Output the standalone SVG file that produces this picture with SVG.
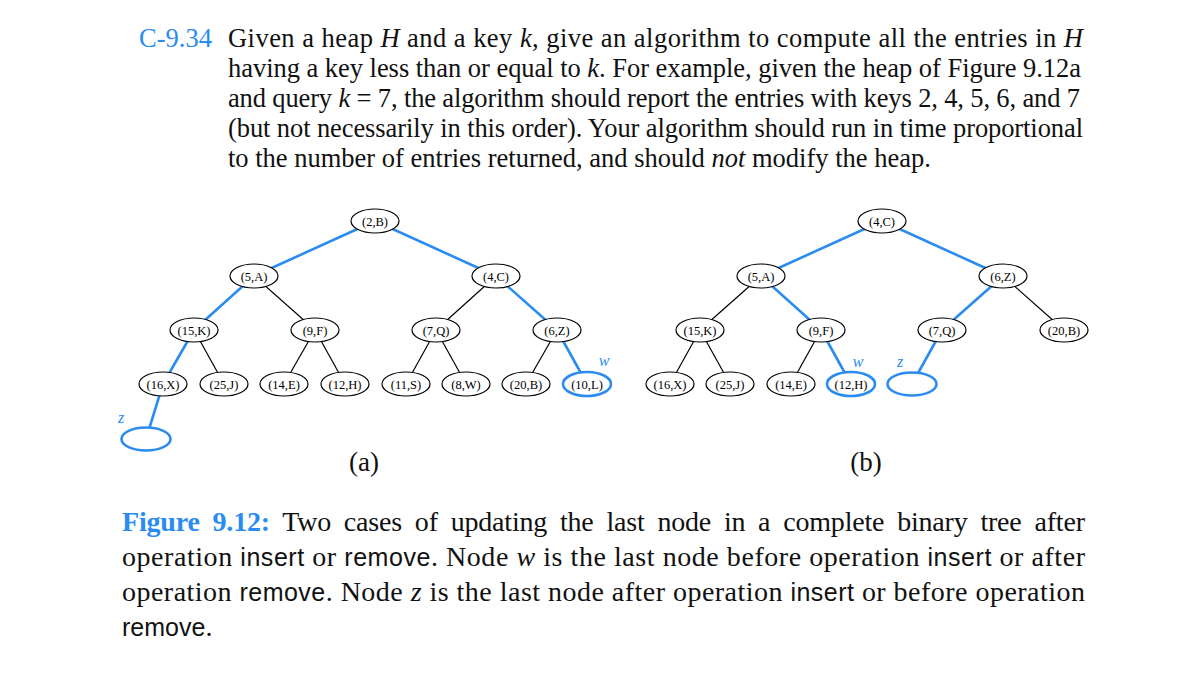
<svg xmlns="http://www.w3.org/2000/svg" width="1200" height="690" viewBox="0 0 1200 690">
<style>
.bg{fill:#ffffff}
.t{font-family:"Liberation Serif","Times New Roman",serif;font-size:26.5px;fill:#111}
.c{font-size:28px}
.it{font-style:italic}
.blue{fill:#2a8cf0}
.sf{font-family:"Liberation Sans",Arial,sans-serif;font-size:25px}
.nd ellipse{fill:#fff;stroke:#000;stroke-width:1.2}
.nd.hl ellipse{stroke:#2a8cf0;stroke-width:2.6}
.nd text{font-family:"Liberation Serif","Times New Roman",serif;font-size:12.5px;fill:#000;text-anchor:middle}
.e{stroke:#000;stroke-width:1.2}
.eb{stroke:#2a8cf0;stroke-width:2.6}
.lbl{font-family:"Liberation Serif","Times New Roman",serif;font-style:italic;font-size:16px;fill:#2a8cf0;text-anchor:middle}
.sub{font-family:"Liberation Serif","Times New Roman",serif;font-size:27px;fill:#111;text-anchor:middle}
</style>
<rect class="bg" x="0" y="0" width="1200" height="690"/>

<g id="problem-text">
<text class="t blue" x="139" y="47">C-9.34</text>
<text class="t" x="228" y="47" textLength="855" lengthAdjust="spacing">Given a heap <tspan class="it">H</tspan> and a key <tspan class="it">k</tspan>, give an algorithm to compute all the entries in <tspan class="it">H</tspan></text>
<text class="t" x="228" y="77" textLength="853" lengthAdjust="spacing">having a key less than or equal to <tspan class="it">k</tspan>. For example, given the heap of Figure 9.12a</text>
<text class="t" x="228" y="107" textLength="852" lengthAdjust="spacing">and query <tspan class="it">k</tspan> = 7, the algorithm should report the entries with keys 2, 4, 5, 6, and 7</text>
<text class="t" x="228" y="137" textLength="855" lengthAdjust="spacing">(but not necessarily in this order). Your algorithm should run in time proportional</text>
<text class="t" x="228" y="167">to the number of entries returned, and should <tspan class="it">not</tspan> modify the heap.</text>
</g>

<g id="connectors" fill="none">
<!-- tree (a) -->
<line class="eb" x1="375" y1="221" x2="254" y2="276"/>
<line class="eb" x1="375" y1="221" x2="496" y2="276"/>
<line class="eb" x1="254" y1="276" x2="194" y2="330"/>
<line class="e" x1="254" y1="276" x2="315" y2="330"/>
<line class="e" x1="496" y1="276" x2="436" y2="330"/>
<line class="eb" x1="496" y1="276" x2="557" y2="330"/>
<line class="eb" x1="194" y1="330" x2="163" y2="384"/>
<line class="e" x1="194" y1="330" x2="224" y2="384"/>
<line class="e" x1="315" y1="330" x2="284" y2="384"/>
<line class="e" x1="315" y1="330" x2="345" y2="384"/>
<line class="e" x1="436" y1="330" x2="406" y2="384"/>
<line class="e" x1="436" y1="330" x2="466" y2="384"/>
<line class="e" x1="557" y1="330" x2="526" y2="384"/>
<line class="eb" x1="557" y1="330" x2="587" y2="384"/>
<line class="eb" x1="163" y1="384" x2="146" y2="439"/>
<!-- tree (b) -->
<line class="eb" x1="882" y1="221" x2="761" y2="276"/>
<line class="eb" x1="882" y1="221" x2="1003" y2="276"/>
<line class="e" x1="761" y1="276" x2="700" y2="330"/>
<line class="eb" x1="761" y1="276" x2="821" y2="330"/>
<line class="eb" x1="1003" y1="276" x2="942" y2="330"/>
<line class="e" x1="1003" y1="276" x2="1064" y2="330"/>
<line class="e" x1="700" y1="330" x2="670" y2="384"/>
<line class="e" x1="700" y1="330" x2="730" y2="384"/>
<line class="e" x1="821" y1="330" x2="791" y2="384"/>
<line class="eb" x1="821" y1="330" x2="851" y2="384"/>
<line class="eb" x1="942" y1="330" x2="912" y2="384"/>
</g>

<!-- tree (a) nodes -->
<g id="a-2B" class="nd"><ellipse cx="375" cy="221" rx="24" ry="12"/><text x="375" y="225.5">(2,B)</text></g>
<g id="a-5A" class="nd"><ellipse cx="254" cy="276" rx="24" ry="12"/><text x="254" y="280.5">(5,A)</text></g>
<g id="a-4C" class="nd"><ellipse cx="496" cy="276" rx="24" ry="12"/><text x="496" y="280.5">(4,C)</text></g>
<g id="a-15K" class="nd"><ellipse cx="194" cy="330" rx="24" ry="12"/><text x="194" y="334.5">(15,K)</text></g>
<g id="a-9F" class="nd"><ellipse cx="315" cy="330" rx="24" ry="12"/><text x="315" y="334.5">(9,F)</text></g>
<g id="a-7Q" class="nd"><ellipse cx="436" cy="330" rx="24" ry="12"/><text x="436" y="334.5">(7,Q)</text></g>
<g id="a-6Z" class="nd"><ellipse cx="557" cy="330" rx="24" ry="12"/><text x="557" y="334.5">(6,Z)</text></g>
<g id="a-16X" class="nd"><ellipse cx="163" cy="384" rx="24" ry="12"/><text x="163" y="388.5">(16,X)</text></g>
<g id="a-25J" class="nd"><ellipse cx="224" cy="384" rx="24" ry="12"/><text x="224" y="388.5">(25,J)</text></g>
<g id="a-14E" class="nd"><ellipse cx="284" cy="384" rx="24" ry="12"/><text x="284" y="388.5">(14,E)</text></g>
<g id="a-12H" class="nd"><ellipse cx="345" cy="384" rx="24" ry="12"/><text x="345" y="388.5">(12,H)</text></g>
<g id="a-11S" class="nd"><ellipse cx="406" cy="384" rx="24" ry="12"/><text x="406" y="388.5">(11,S)</text></g>
<g id="a-8W" class="nd"><ellipse cx="466" cy="384" rx="24" ry="12"/><text x="466" y="388.5">(8,W)</text></g>
<g id="a-20B" class="nd"><ellipse cx="526" cy="384" rx="24" ry="12"/><text x="526" y="388.5">(20,B)</text></g>
<g id="a-10L" class="nd hl"><ellipse cx="587" cy="384" rx="24" ry="12"/><text x="587" y="388.5">(10,L)</text></g>
<g id="a-z" class="nd hl"><ellipse cx="146" cy="439" rx="24.5" ry="11.5"/></g>
<text class="lbl" x="121" y="423">z</text>
<text class="lbl" x="604" y="366">w</text>

<!-- tree (b) nodes -->
<g id="b-4C" class="nd"><ellipse cx="882" cy="221" rx="24" ry="12"/><text x="882" y="225.5">(4,C)</text></g>
<g id="b-5A" class="nd"><ellipse cx="761" cy="276" rx="24" ry="12"/><text x="761" y="280.5">(5,A)</text></g>
<g id="b-6Z" class="nd"><ellipse cx="1003" cy="276" rx="24" ry="12"/><text x="1003" y="280.5">(6,Z)</text></g>
<g id="b-15K" class="nd"><ellipse cx="700" cy="330" rx="24" ry="12"/><text x="700" y="334.5">(15,K)</text></g>
<g id="b-9F" class="nd"><ellipse cx="821" cy="330" rx="24" ry="12"/><text x="821" y="334.5">(9,F)</text></g>
<g id="b-7Q" class="nd"><ellipse cx="942" cy="330" rx="24" ry="12"/><text x="942" y="334.5">(7,Q)</text></g>
<g id="b-20B" class="nd"><ellipse cx="1064" cy="330" rx="24" ry="12"/><text x="1064" y="334.5">(20,B)</text></g>
<g id="b-16X" class="nd"><ellipse cx="670" cy="384" rx="24" ry="12"/><text x="670" y="388.5">(16,X)</text></g>
<g id="b-25J" class="nd"><ellipse cx="730" cy="384" rx="24" ry="12"/><text x="730" y="388.5">(25,J)</text></g>
<g id="b-14E" class="nd"><ellipse cx="791" cy="384" rx="24" ry="12"/><text x="791" y="388.5">(14,E)</text></g>
<g id="b-12H" class="nd hl"><ellipse cx="851" cy="384" rx="24" ry="12"/><text x="851" y="388.5">(12,H)</text></g>
<g id="b-z" class="nd hl"><ellipse cx="912" cy="384" rx="24.5" ry="11.5"/></g>
<text class="lbl" x="858" y="367">w</text>
<text class="lbl" x="900" y="367">z</text>

<text class="sub" x="364" y="471">(a)</text>
<text class="sub" x="866" y="471">(b)</text>

<g id="caption">
<text class="t c" x="122" y="531" word-spacing="6" textLength="963" lengthAdjust="spacing"><tspan class="blue" font-weight="bold">Figure 9.12:</tspan>  Two cases of updating the last node in a complete binary tree after</text>
<text class="t c" x="122" y="566" textLength="963" lengthAdjust="spacing">operation <tspan class="sf">insert</tspan> or <tspan class="sf">remove</tspan>. Node <tspan class="it">w</tspan> is the last node before operation <tspan class="sf">insert</tspan> or after</text>
<text class="t c" x="122" y="601" textLength="963" lengthAdjust="spacing">operation <tspan class="sf">remove</tspan>. Node <tspan class="it">z</tspan> is the last node after operation <tspan class="sf">insert</tspan> or before operation</text>
<text class="t c" x="122" y="636"><tspan class="sf">remove</tspan>.</text>
</g>
</svg>
